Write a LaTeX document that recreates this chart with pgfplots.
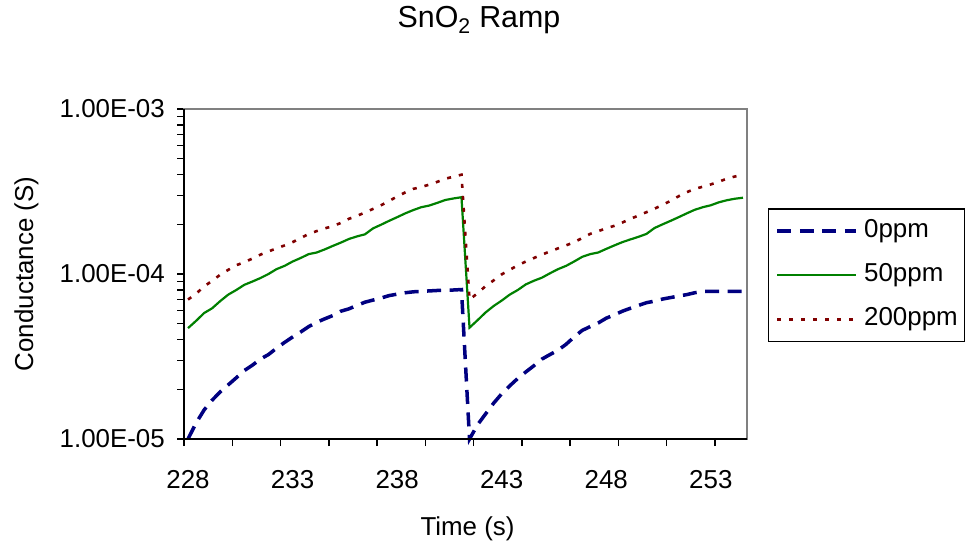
\documentclass[border=0pt]{standalone}
\usepackage{pgfplots}
\pgfplotsset{compat=1.18}
\usepackage{pgfplotstable}
\usepackage{fontspec}
\setmainfont{Liberation Sans}

\definecolor{navyline}{RGB}{0,0,128}
\definecolor{greenline}{RGB}{0,128,0}
\definecolor{redline}{RGB}{128,0,0}
\definecolor{framegray}{RGB}{128,128,128}
\newcommand{\chartfont}{\fontsize{26}{31}\selectfont}

% i = sample index (13 samples per 5 s, first sample at 228 s)
\pgfplotstableread{
i  g0       g50      g200
0  1.00e-5  4.70e-5  7.00e-5
1  1.25e-5  5.20e-5  7.60e-5
2  1.50e-5  5.80e-5  8.40e-5
3  1.72e-5  6.20e-5  9.10e-5
4  1.93e-5  6.85e-5  9.90e-5
5  2.13e-5  7.50e-5  1.06e-4
6  2.35e-5  8.00e-5  1.13e-4
7  2.60e-5  8.60e-5  1.18e-4
8  2.80e-5  9.00e-5  1.24e-4
9  3.05e-5  9.45e-5  1.31e-4
10 3.25e-5  1.00e-4  1.37e-4
11 3.55e-5  1.07e-4  1.43e-4
12 3.85e-5  1.12e-4  1.49e-4
13 4.15e-5  1.19e-4  1.56e-4
14 4.45e-5  1.25e-4  1.65e-4
15 4.80e-5  1.32e-4  1.75e-4
16 5.10e-5  1.35e-4  1.82e-4
17 5.35e-5  1.41e-4  1.89e-4
18 5.60e-5  1.48e-4  1.95e-4
19 5.95e-5  1.55e-4  2.04e-4
20 6.15e-5  1.63e-4  2.16e-4
21 6.45e-5  1.69e-4  2.25e-4
22 6.75e-5  1.74e-4  2.36e-4
23 6.95e-5  1.89e-4  2.48e-4
24 7.15e-5  1.99e-4  2.61e-4
25 7.40e-5  2.10e-4  2.77e-4
26 7.55e-5  2.21e-4  2.95e-4
27 7.70e-5  2.33e-4  3.12e-4
28 7.80e-5  2.44e-4  3.28e-4
29 7.85e-5  2.54e-4  3.37e-4
30 7.90e-5  2.60e-4  3.48e-4
31 7.95e-5  2.70e-4  3.62e-4
32 8.00e-5  2.81e-4  3.78e-4
33 8.00e-5  2.87e-4  3.89e-4
34 8.05e-5  2.92e-4  4.00e-4
35 1.00e-5  4.73e-5  7.00e-5
36 1.22e-5  5.25e-5  7.65e-5
37 1.42e-5  5.85e-5  8.45e-5
38 1.65e-5  6.40e-5  9.15e-5
39 1.88e-5  6.90e-5  9.95e-5
40 2.10e-5  7.50e-5  1.06e-4
41 2.33e-5  8.00e-5  1.13e-4
42 2.55e-5  8.65e-5  1.19e-4
43 2.78e-5  9.10e-5  1.25e-4
44 3.05e-5  9.50e-5  1.31e-4
45 3.25e-5  1.01e-4  1.37e-4
46 3.45e-5  1.07e-4  1.43e-4
47 3.75e-5  1.12e-4  1.49e-4
48 4.15e-5  1.19e-4  1.56e-4
49 4.55e-5  1.27e-4  1.65e-4
50 4.80e-5  1.32e-4  1.75e-4
51 5.05e-5  1.35e-4  1.82e-4
52 5.40e-5  1.42e-4  1.89e-4
53 5.65e-5  1.49e-4  1.96e-4
54 5.95e-5  1.56e-4  2.05e-4
55 6.20e-5  1.62e-4  2.16e-4
56 6.45e-5  1.68e-4  2.26e-4
57 6.70e-5  1.75e-4  2.37e-4
58 6.85e-5  1.90e-4  2.49e-4
59 7.05e-5  2.00e-4  2.62e-4
60 7.20e-5  2.10e-4  2.78e-4
61 7.35e-5  2.21e-4  2.96e-4
62 7.50e-5  2.33e-4  3.13e-4
63 7.70e-5  2.45e-4  3.28e-4
64 7.85e-5  2.54e-4  3.38e-4
65 7.85e-5  2.61e-4  3.49e-4
66 7.85e-5  2.72e-4  3.63e-4
67 7.85e-5  2.80e-4  3.78e-4
68 7.85e-5  2.86e-4  3.90e-4
69 7.85e-5  2.90e-4  4.00e-4
}\ramp

\begin{document}
\begin{tikzpicture}
\useasboundingbox (0,0) rectangle (969bp,547bp);
\begin{axis}[
  at={(184bp,108bp)}, anchor=south west,
  scale only axis, width=563bp, height=330bp,
  ymode=log,
  xmin=-0.5, xmax=69.5, ymin=1e-5, ymax=1e-3,
  clip=false,
  axis line style={draw=framegray, line width=2bp},
  tick pos=left, tick align=outside,
  xtick={0,13,26,39,52,65},
  xticklabels={228,233,238,243,248,253},
  minor xtick={-0.5,5.5,...,65.5},
  major x tick style={draw=none},
  ytick={1e-5,1e-4,1e-3},
  yticklabels={1.00E-05,1.00E-04,1.00E-03},
  minor ytick={2e-5,3e-5,4e-5,5e-5,6e-5,7e-5,8e-5,9e-5,
               2e-4,3e-4,4e-4,5e-4,6e-4,7e-4,8e-4,9e-4},
  major tick length=7bp, minor tick length=7bp,
  every tick/.style={black, line width=1.5bp},
  every tick label/.append style={font=\chartfont},
  yticklabel style={anchor=east, inner sep=0pt, xshift=-12bp},
  xticklabel style={anchor=north, inner sep=0pt, yshift=-24bp},
  title={SnO\textsubscript{2} Ramp},
  title style={font=\fontsize{30.5}{36}\selectfont,
    at={(axis description cs:0.5,1)}, anchor=base, yshift=76bp, xshift=13.5bp},
  xlabel={Time (s)},
  xlabel style={font=\chartfont,
    at={(axis description cs:0.5,0)}, anchor=base, yshift=-96bp, xshift=2bp},
  ylabel={Conductance (S)},
  ylabel style={font=\chartfont,
    at={(axis description cs:-0.2682,0.5)}, anchor=base},
  legend style={
    at={(axis description cs:1,0.699)}, anchor=north west, xshift=21bp,
    draw=black, line width=1.3bp, fill=white, font=\chartfont,
    inner xsep=7bp, inner ysep=10bp, row sep=19.5bp, column sep=6bp,
    nodes={inner sep=0pt, text height=19bp, text depth=5.5bp}},
  legend cell align=left,
  legend image code/.code={\draw[#1] (0bp,0bp) -- (79bp,0bp);},
]
\addplot[navyline, line width=3.5bp, dash pattern=on 14bp off 8.5bp]
  table[x=i, y=g0] {\ramp};
\addlegendentry{0ppm}
\addplot[greenline, line width=2.2bp]
  table[x=i, y=g50] {\ramp};
\addlegendentry{50ppm}
\addplot[redline, line width=2.6bp, dash pattern=on 4bp off 8bp]
  table[x=i, y=g200] {\ramp};
\addlegendentry{200ppm}
\draw[black, line width=2bp] (rel axis cs:0,1) -- (rel axis cs:0,0) -- (rel axis cs:1,0);
\end{axis}
\end{tikzpicture}
\end{document}
